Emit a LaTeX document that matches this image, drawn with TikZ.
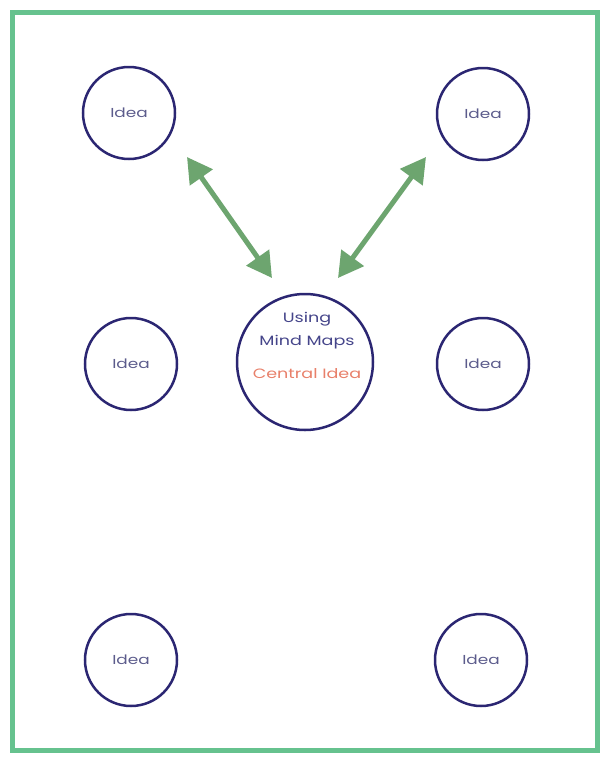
\documentclass[tikz,border=0pt]{standalone}
\usepackage{fontspec}
\newfontfamily\ideafont[FakeStretch=1.3]{Poppins}
\usetikzlibrary{arrows.meta}
\definecolor{frame}{HTML}{66C28E}
\definecolor{arrowgreen}{HTML}{6DA56F}
\definecolor{ring}{HTML}{2B2672}
\definecolor{ideatext}{HTML}{5C5C8C}
\definecolor{titletext}{HTML}{45458A}
\definecolor{central}{HTML}{E8806A}
\begin{document}
\begin{tikzpicture}[x=1pt,y=-1pt,
  idea/.style={circle,draw=ring,line width=2.5pt,minimum size=92pt,inner sep=0pt,
    text=ideatext,font=\ideafont\fontsize{13}{15}\selectfont},
  centre/.style={circle,draw=ring,line width=2.5pt,minimum size=136pt,inner sep=0pt},
  link/.style={arrowgreen,line width=5pt,{Triangle[length=25pt,width=27pt]}-{Triangle[length=25pt,width=27pt]}}]
\useasboundingbox (0,0) rectangle (605,758);
\draw[frame,line width=5pt] (12.5,12.5) rectangle (597.5,750.5);
\node[idea] (tl) at (129,113) {Idea};
\node[idea] (tr) at (483,114) {Idea};
\node[idea] (ml) at (131,364) {Idea};
\node[idea] (mr) at (483,364) {Idea};
\node[idea] (bl) at (131,660) {Idea};
\node[idea] (br) at (481,660) {Idea};
\node[centre] (c) at (305,362) {};
\node[text=titletext,font=\ideafont\fontsize{13.5}{15}\selectfont] (t1) at (307,319) {Using};
\node[text=titletext,font=\ideafont\fontsize{13.5}{15}\selectfont] (t2) at (307,342) {Mind Maps};
\node[text=central,font=\ideafont\fontsize{13.5}{15}\selectfont] (t3) at (307,374) {Central Idea};
\coordinate (a1) at (187,157);
\coordinate (a2) at (272,278);
\coordinate (b1) at (426,157);
\coordinate (b2) at (338,278);
\draw[link] (a1) -- (a2);
\draw[link] (b1) -- (b2);
\end{tikzpicture}
\end{document}
